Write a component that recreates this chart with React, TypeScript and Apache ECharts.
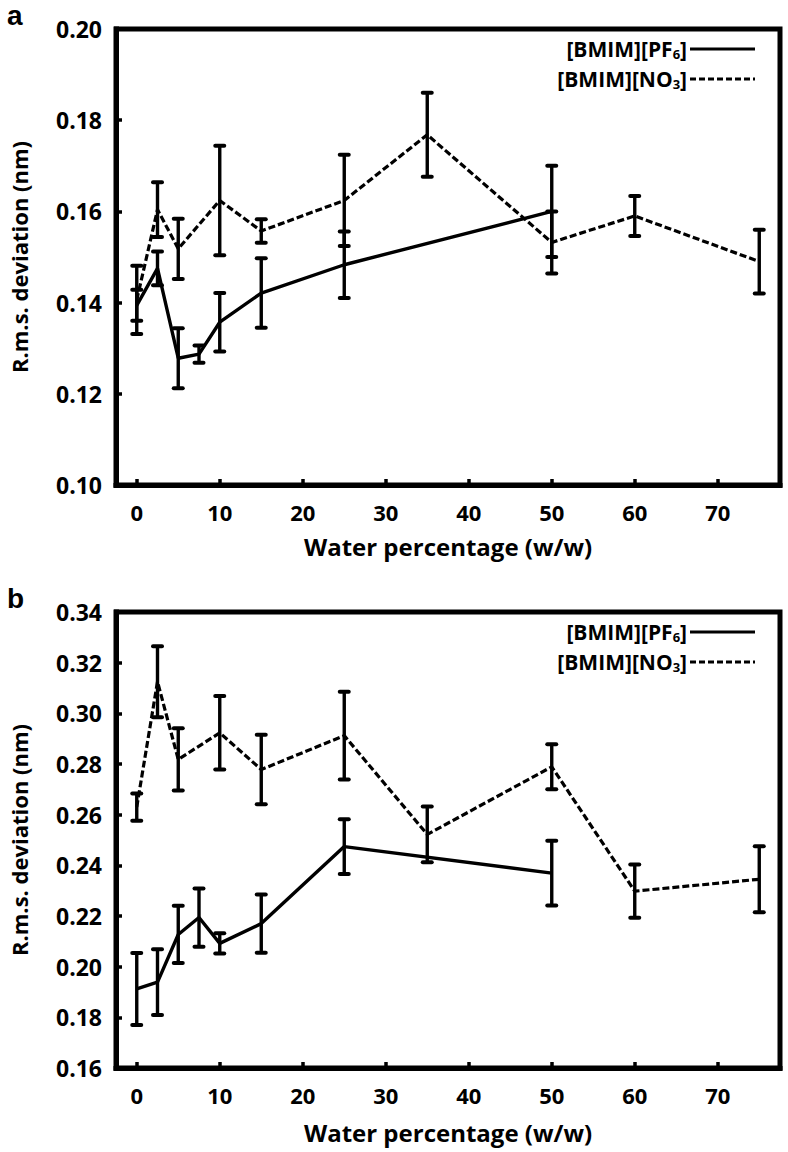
import React, { useEffect, useRef } from 'react';
import * as echarts from 'echarts';

// Water percentage (w/w)
const waterPF6 = [0, 2.5, 5, 7.5, 10, 15, 25, 50];
const waterNO3 = [0, 2.5, 5, 10, 15, 25, 35, 50, 60, 75];
const xTicks = [0, 10, 20, 30, 40, 50, 60, 70];

// Panel a: R.m.s. deviation (nm)
const aPF6 = [0.1394, 0.1475, 0.1278, 0.1287, 0.1357, 0.1421, 0.1483, 0.160];
const aPF6Err = [0.0034, 0.0037, 0.0066, 0.0019, 0.0064, 0.0076, 0.0073, 0.010];
const aNO3 = [0.1406, 0.1604, 0.1518, 0.1624, 0.1557, 0.1624, 0.1768, 0.1532, 0.159, 0.149];
const aNO3Err = [0.0075, 0.006, 0.0066, 0.012, 0.0026, 0.010, 0.0092, 0.0068, 0.0044, 0.007];

// Panel b
const bPF6 = [0.1912, 0.1939, 0.2127, 0.2194, 0.2092, 0.217, 0.2474, 0.2369];
const bPF6Err = [0.0142, 0.013, 0.0113, 0.0115, 0.004, 0.0115, 0.0108, 0.0128];
const bNO3 = [0.263, 0.3125, 0.2818, 0.2923, 0.2778, 0.2912, 0.2522, 0.2789, 0.2298, 0.2345];
const bNO3Err = [0.0054, 0.014, 0.0123, 0.0145, 0.0137, 0.0173, 0.011, 0.0089, 0.0105, 0.013];

const panels = [
  { letter: 'a', top: 29, yMin: 0.10, yMax: 0.20, yInt: 0.02, pf6: aPF6, pf6Err: aPF6Err, no3: aNO3, no3Err: aNO3Err, xNameGap: 49 },
  { letter: 'b', top: 612, yMin: 0.16, yMax: 0.34, yInt: 0.02, pf6: bPF6, pf6Err: bPF6Err, no3: bNO3, no3Err: bNO3Err, xNameGap: 52 },
];

const FONT = '"Open Sans", "Noto Sans", sans-serif';
const GRID_LEFT = 115;
const GRID_W = 665;
const GRID_H = 456;

const errRender = (params: any, api: any) => {
  const x = api.value(0);
  const lo = api.value(1);
  const hi = api.value(2);
  const p1 = api.coord([x, hi]);
  const p2 = api.coord([x, lo]);
  const w = 4.5;
  const st = { stroke: '#000', lineWidth: 3.4 };
  const cap = { stroke: '#000', lineWidth: 4, lineCap: 'round' };
  return {
    type: 'group',
    children: [
      { type: 'line', shape: { x1: p1[0], y1: p1[1], x2: p2[0], y2: p2[1] }, style: st },
      { type: 'line', shape: { x1: p1[0] - w, y1: p1[1], x2: p1[0] + w, y2: p1[1] }, style: cap },
      { type: 'line', shape: { x1: p2[0] - w, y1: p2[1], x2: p2[0] + w, y2: p2[1] }, style: cap },
    ],
  };
};

export default function App() {
  const ref = useRef<HTMLDivElement>(null);
  useEffect(() => {
    if (!ref.current) return;
    const chart = echarts.init(ref.current, null, { renderer: 'svg' });
    const grid: any[] = [];
    const xAxis: any[] = [];
    const yAxis: any[] = [];
    const series: any[] = [];
    const graphic: any[] = [];
    panels.forEach((p, i) => {
      grid.push({ left: GRID_LEFT, top: p.top, width: GRID_W, height: GRID_H, show: true, borderColor: '#000', borderWidth: 5, backgroundColor: 'transparent' });
      xAxis.push({
        type: 'value', gridIndex: i, min: -2.5, max: 77.5,
        name: 'Water percentage (w/w)', nameLocation: 'middle', nameGap: p.xNameGap,
        nameTextStyle: { fontFamily: FONT, fontWeight: 'bold', fontSize: 24, color: '#000', lineHeight: 24 },
        axisLine: { show: true, onZero: false, lineStyle: { color: '#000', width: 5, cap: 'square' } },
        axisTick: { show: true, inside: true, length: 6, lineStyle: { width: 3.5, color: '#000' }, customValues: xTicks },
        axisLabel: { fontFamily: FONT, fontWeight: 'bold', fontSize: 22, lineHeight: 22, color: '#000', margin: 16, customValues: xTicks },
        splitLine: { show: false },
      });
      yAxis.push({
        type: 'value', gridIndex: i, min: p.yMin, max: p.yMax, interval: p.yInt,
        name: 'R.m.s. deviation (nm)', nameLocation: 'middle', nameGap: 86, nameRotate: 90,
        nameTextStyle: { fontFamily: FONT, fontWeight: 'bold', fontSize: 22, color: '#000' },
        axisLine: { show: true, onZero: false, lineStyle: { color: '#000', width: 5, cap: 'square' } },
        axisTick: { show: true, inside: true, length: 6, lineStyle: { width: 3.5, color: '#000' } },
        axisLabel: { fontFamily: FONT, fontWeight: 'bold', fontSize: 23, color: '#000', margin: 14, formatter: (v: number) => v.toFixed(2) },
        splitLine: { show: false },
      });
      series.push({
        type: 'line', name: '[BMIM][PF6]', xAxisIndex: i, yAxisIndex: i, symbol: 'none',
        data: waterPF6.map((x, k) => [x, p.pf6[k]]),
        lineStyle: { color: '#000', width: 3.4, type: 'solid' }, z: 3,
      });
      series.push({
        type: 'line', name: '[BMIM][NO3]', xAxisIndex: i, yAxisIndex: i, symbol: 'none',
        data: waterNO3.map((x, k) => [x, p.no3[k]]),
        lineStyle: { color: '#000', width: 3.2, type: [7, 3] }, z: 3,
      });
      series.push({
        type: 'custom', xAxisIndex: i, yAxisIndex: i, renderItem: errRender,
        encode: { x: 0, y: [1, 2] },
        data: waterPF6.map((x, k) => [x, p.pf6[k] - p.pf6Err[k], p.pf6[k] + p.pf6Err[k]]), z: 4,
      });
      series.push({
        type: 'custom', xAxisIndex: i, yAxisIndex: i, renderItem: errRender,
        encode: { x: 0, y: [1, 2] },
        data: waterNO3.map((x, k) => [x, p.no3[k] - p.no3Err[k], p.no3[k] + p.no3Err[k]]), z: 4,
      });
      // panel letter
      graphic.push({
        type: 'text', x: 7, y: p.top - 14,
        style: { text: p.letter, font: 'bold 28px "Liberation Sans", Arial, sans-serif', fill: '#000', verticalAlign: 'middle' },
      });
      // legend
      const rich = {
        t: { fontFamily: FONT, fontWeight: 'bold', fontSize: 21, lineHeight: 22, fill: '#000', color: '#000' },
        s: { fontFamily: FONT, fontWeight: 'bold', fontSize: 13, lineHeight: 13, fill: '#000', color: '#000', verticalAlign: 'bottom' },
      };
      const rows = [
        { text: '{t|[BMIM][PF}{s|6}{t|]}', dash: 'solid', dy: 20 },
        { text: '{t|[BMIM][NO}{s|3}{t|]}', dash: [6, 3], dy: 50 },
      ];
      rows.forEach((r) => {
        graphic.push({
          type: 'text', x: 687, y: p.top + r.dy,
          style: { text: r.text, rich, align: 'right', verticalAlign: 'middle', lineHeight: 22 },
        });
        graphic.push({
          type: 'line', shape: { x1: 690, y1: p.top + r.dy, x2: 755, y2: p.top + r.dy },
          style: { stroke: '#000', lineWidth: 3.2, lineDash: r.dash === 'solid' ? null : r.dash },
        });
      });
    });
    chart.setOption({
      animation: false,
      backgroundColor: '#fff',
      grid, xAxis, yAxis, series, graphic,
    });
    return () => chart.dispose();
  }, []);
  return <div ref={ref} style={{ position: 'absolute', left: 0, top: 0, width: 788, height: 1152 }} />;
}
